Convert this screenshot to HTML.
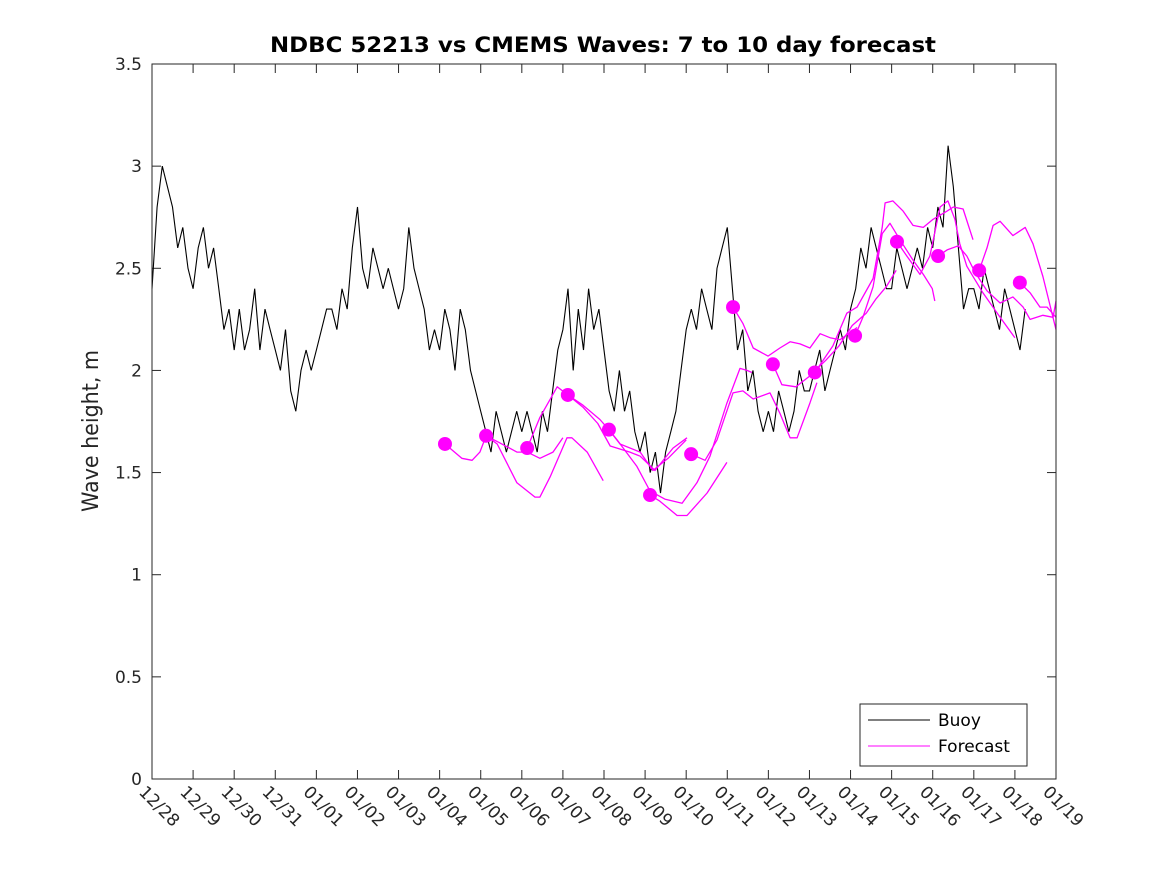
<!DOCTYPE html>
<html><head><meta charset="utf-8"><style>
body{margin:0;background:#fff;}
svg{display:block;font-family:"DejaVu Sans","Liberation Sans",sans-serif;}
</style></head><body>
<svg id="chart" width="1167" height="875" viewBox="0 0 1167 875" xmlns="http://www.w3.org/2000/svg">
<rect width="1167" height="875" fill="#fff"/>
<text x="603" y="52" text-anchor="middle" font-size="21" font-weight="bold" fill="#000" textLength="666" lengthAdjust="spacingAndGlyphs">NDBC 52213 vs CMEMS Waves: 7 to 10 day forecast</text>
<text transform="translate(98,431) rotate(-90)" text-anchor="middle" font-size="22" fill="#262626" textLength="162" lengthAdjust="spacingAndGlyphs">Wave height, m</text>
<g id="axes"></g>
<g id="series"></g>
<rect x="152" y="64" width="904" height="715" fill="none" stroke="#262626" stroke-width="1"/>
<g>
<rect x="860" y="704" width="167" height="62" fill="#fff" stroke="#262626" stroke-width="1"/>
<line x1="868" y1="720" x2="930" y2="720" stroke="#000" stroke-width="1"/>
<text x="938" y="726" font-size="17" fill="#000">Buoy</text>
<line x1="868" y1="746" x2="930" y2="746" stroke="#ff00ff" stroke-width="1"/>
<text x="938" y="752" font-size="17" fill="#000">Forecast</text>
</g>
</svg>
<script>
const xTickLabels = ["12/28","12/29","12/30","12/31","01/01","01/02","01/03","01/04","01/05","01/06","01/07","01/08","01/09","01/10","01/11","01/12","01/13","01/14","01/15","01/16","01/17","01/18","01/19"];
const yTicks = [0,0.5,1,1.5,2,2.5,3,3.5];
const yTickLabels = ["0","0.5","1","1.5","2","2.5","3","3.5"];
// buoy wave height, 8 samples per day starting 12/28 00:00
const buoyValues = [
2.4,2.8,3.0,2.9,2.8,2.6,2.7,2.5,
2.4,2.6,2.7,2.5,2.6,2.4,2.2,2.3,
2.1,2.3,2.1,2.2,2.4,2.1,2.3,2.2,
2.1,2.0,2.2,1.9,1.8,2.0,2.1,2.0,
2.1,2.2,2.3,2.3,2.2,2.4,2.3,2.6,
2.8,2.5,2.4,2.6,2.5,2.4,2.5,2.4,
2.3,2.4,2.7,2.5,2.4,2.3,2.1,2.2,
2.1,2.3,2.2,2.0,2.3,2.2,2.0,1.9,
1.8,1.7,1.6,1.8,1.7,1.6,1.7,1.8,
1.7,1.8,1.7,1.6,1.8,1.7,1.9,2.1,
2.2,2.4,2.0,2.3,2.1,2.4,2.2,2.3,
2.1,1.9,1.8,2.0,1.8,1.9,1.7,1.6,
1.7,1.5,1.6,1.4,1.6,1.7,1.8,2.0,
2.2,2.3,2.2,2.4,2.3,2.2,2.5,2.6,
2.7,2.4,2.1,2.2,1.9,2.0,1.8,1.7,
1.8,1.7,1.9,1.8,1.7,1.8,2.0,1.9,
1.9,2.0,2.1,1.9,2.0,2.1,2.2,2.1,
2.3,2.4,2.6,2.5,2.7,2.6,2.5,2.4,
2.4,2.6,2.5,2.4,2.5,2.6,2.5,2.7,
2.6,2.8,2.7,3.1,2.9,2.6,2.3,2.4,
2.4,2.3,2.5,2.4,2.3,2.2,2.4,2.3,
2.2,2.1,2.3];
// forecast segments: days since 12/28 and values
const fcDays1=[7.13,7.54,7.79,7.98,8.13,8.42,8.88,9.13,9.44,9.76,10.0];
const fcVals1=[1.64,1.57,1.56,1.60,1.68,1.65,1.60,1.60,1.57,1.60,1.67];
const fcDays2=[8.13,8.40,8.88,9.32,9.44,9.69,10.10,10.22,10.59,10.98];
const fcVals2=[1.68,1.64,1.45,1.38,1.38,1.48,1.67,1.67,1.60,1.46];
const fcDays3=[9.13,9.44,9.86,10.12,10.49,10.85,11.15,11.63,11.88,12.24,12.68,13.02];
const fcVals3=[1.62,1.77,1.92,1.88,1.82,1.74,1.63,1.60,1.58,1.51,1.62,1.67];
const fcDays4=[10.12,10.49,10.90,11.12,11.39,11.88,12.19,12.56,13.0];
const fcVals4=[1.88,1.83,1.76,1.71,1.64,1.60,1.51,1.57,1.66];
const fcDays5=[11.12,11.32,11.80,12.12,12.48,12.90,13.26,13.58,13.99,14.31,14.48,14.6];
const fcVals5=[1.71,1.66,1.53,1.41,1.37,1.35,1.45,1.58,1.84,2.01,2.00,1.99];
const fcDays6=[12.12,12.36,12.78,13.02,13.51,13.99];
const fcVals6=[1.39,1.36,1.29,1.29,1.40,1.55];
const fcDays7=[13.12,13.46,13.75,14.14,14.38,14.63,15.04,15.28,15.53,15.70,16.01,16.18];
const fcVals7=[1.59,1.56,1.66,1.89,1.90,1.86,1.89,1.79,1.67,1.67,1.84,1.94];
const fcDays8=[14.14,14.38,14.63,14.99,15.28,15.53,15.77,16.01,16.26,16.50,16.74,17.16];
const fcVals8=[2.31,2.23,2.11,2.07,2.11,2.14,2.13,2.11,2.18,2.16,2.15,2.21];
const fcDays9=[15.11,15.33,15.67,15.99,16.4,16.72,17.04,17.38,17.62,17.87,18.11];
const fcVals9=[2.03,1.93,1.92,1.97,2.05,2.12,2.22,2.28,2.35,2.41,2.49];
const fcDays10=[16.13,16.57,16.91,17.16,17.55,17.77,17.84,18.03,18.28,18.52,18.77,19.01,19.35,19.50,19.74,19.98];
const fcVals10=[1.99,2.12,2.28,2.31,2.45,2.70,2.82,2.83,2.78,2.71,2.70,2.74,2.78,2.80,2.79,2.64];
const fcDays11=[17.11,17.30,17.55,17.77,17.96,18.20,18.52,18.77,18.99,19.05];
const fcVals11=[2.17,2.26,2.41,2.67,2.72,2.64,2.54,2.47,2.40,2.34];
const fcDays12=[18.13,18.37,18.69,18.93,19.18,19.37,19.54,19.66,19.83,20.22,20.64,21.0];
const fcVals12=[2.63,2.56,2.47,2.56,2.80,2.83,2.74,2.62,2.51,2.38,2.26,2.16];
const fcDays13=[19.13,19.35,19.62,19.83,20.03,20.32,20.64,20.95,21.2,21.37,21.68,21.93,22.0];
const fcVals13=[2.56,2.59,2.61,2.56,2.48,2.39,2.33,2.36,2.31,2.25,2.27,2.26,2.34];
const fcDays14=[20.13,20.32,20.47,20.64,20.95,21.25,21.44,21.68,22.0];
const fcVals14=[2.49,2.60,2.71,2.73,2.66,2.70,2.62,2.46,2.20];
const fcDays15=[21.12,21.37,21.61,21.78,22.0];
const fcVals15=[2.43,2.38,2.31,2.31,2.26];

const NS="http://www.w3.org/2000/svg";
const X0=152,X1=1056,Y0=779,Y1=64,DMAX=22,VMAX=3.5;
function xs(d){return X0+(X1-X0)*d/DMAX;}
function ys(v){return Y0-(Y0-Y1)*v/VMAX;}
const axes=document.getElementById('axes');
const series=document.getElementById('series');
function mk(tag,attrs,parent){const e=document.createElementNS(NS,tag);for(const k in attrs)e.setAttribute(k,attrs[k]);parent.appendChild(e);return e;}

xTickLabels.forEach((lab,i)=>{
  const x=xs(i);
  const t1=mk('line',{x1:x,y1:Y0,x2:x,y2:Y0-9,stroke:'#262626'},axes);
  
  
  const t2=mk('line',{x1:x,y1:Y1,x2:x,y2:Y1+9,stroke:'#262626'},axes);
  
  
  const tx=mk('text',{transform:`translate(${x-14},${Y0+14}) rotate(45)`,'font-size':'17',fill:'#262626'},axes);
  tx.textContent=lab;
  
  
});
yTicks.forEach((v,i)=>{
  const y=ys(v);
  const t1=mk('line',{x1:X0,y1:y,x2:X0+9,y2:y,stroke:'#262626'},axes);
  
  
  const t2=mk('line',{x1:X1,y1:y,x2:X1-9,y2:y,stroke:'#262626'},axes);
  
  
  const tx=mk('text',{x:X0-10,y:y+6,'text-anchor':'end','font-size':'17',fill:'#262626'},axes);
  tx.textContent=yTickLabels[i];
  
  
});

const bp=buoyValues.map((v,i)=>xs(i/8).toFixed(1)+','+ys(v).toFixed(1)).join(' ');
const buoy=mk('polyline',{points:bp,fill:'none',stroke:'#000','stroke-width':'1.1'},series);



const segs=[[fcDays1,fcVals1],[fcDays2,fcVals2],[fcDays3,fcVals3],[fcDays4,fcVals4],[fcDays5,fcVals5],[fcDays6,fcVals6],[fcDays7,fcVals7],[fcDays8,fcVals8],[fcDays9,fcVals9],[fcDays10,fcVals10],[fcDays11,fcVals11],[fcDays12,fcVals12],[fcDays13,fcVals13],[fcDays14,fcVals14],[fcDays15,fcVals15]];
segs.forEach(([ds,vs])=>{
  const pts=ds.map((d,i)=>xs(d).toFixed(1)+','+ys(vs[i]).toFixed(1)).join(' ');
  const pl=mk('polyline',{points:pts,fill:'none',stroke:'#ff00ff','stroke-width':'1.3','stroke-linejoin':'round'},series);
  
  
});
segs.forEach(([ds,vs])=>{
  const c=mk('circle',{cx:xs(ds[0]),cy:ys(vs[0]),r:7,fill:'#ff00ff'},series);
  
  
});
</script>
</body></html>
